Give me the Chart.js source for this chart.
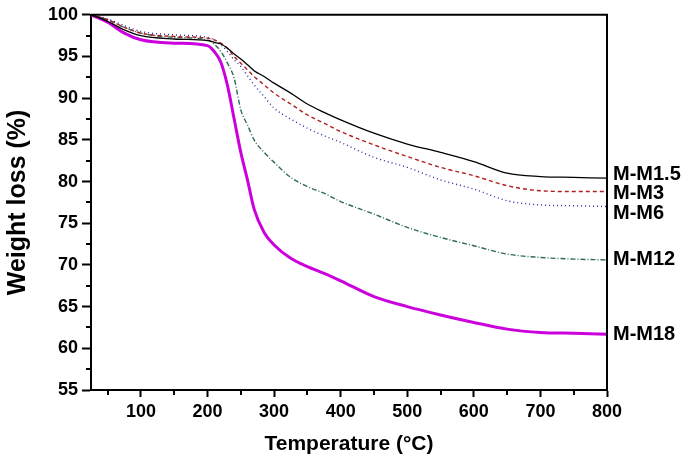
<!doctype html>
<html lang="en">
<head>
<meta charset="utf-8">
<title>TGA</title>
<script src="https://cdn.jsdelivr.net/npm/chart.js@4.4.1/dist/chart.umd.min.js"></script>
<style>
  html, body { margin: 0; padding: 0; background: #fff; }
  #wrap { width: 688px; height: 459px; }
</style>
</head>
<body>
<div id="wrap"><canvas id="myChart"></canvas></div>
<script>
// temperature (°C)
const temps = [25, 50, 75, 100, 150, 200, 210, 220, 230, 240, 250, 260, 270, 285, 300, 325, 350, 375, 400, 450, 500, 550, 600, 650, 700, 750, 800];

const seriesNames = ['M-M1.5', 'M-M3', 'M-M6', 'M-M12', 'M-M18'];

const mm15 = [100, 99.2, 98.2, 97.5, 97.1, 96.9, 96.7, 96.5, 96.0, 95.3, 94.7, 94.0, 93.3, 92.6, 91.8, 90.6, 89.3, 88.3, 87.4, 85.8, 84.5, 83.5, 82.4, 81.0, 80.6, 80.5, 80.4];
const mm3  = [100, 99.4, 98.5, 97.8, 97.4, 97.2, 97.0, 96.6, 96.0, 95.0, 94.2, 93.4, 92.6, 91.6, 90.6, 89.3, 88.0, 87.0, 86.0, 84.4, 83.0, 81.7, 80.7, 79.5, 78.9, 78.8, 78.8];
const mm6  = [100, 99.5, 98.7, 98.0, 97.6, 97.3, 97.0, 96.4, 95.6, 94.6, 93.8, 92.7, 91.6, 90.2, 88.8, 87.5, 86.4, 85.5, 84.7, 82.9, 81.7, 80.2, 79.1, 77.7, 77.2, 77.1, 77.0];
const mm12 = [100, 99.4, 98.5, 97.8, 97.3, 97.0, 96.5, 95.6, 94.2, 92.4, 88.6, 86.8, 85.0, 83.5, 82.3, 80.5, 79.4, 78.6, 77.6, 76.1, 74.5, 73.3, 72.3, 71.3, 70.9, 70.7, 70.6];
const mm18 = [100, 99.1, 97.8, 97.0, 96.6, 96.3, 95.6, 94.3, 91.5, 87.5, 83.5, 80.2, 76.7, 73.9, 72.4, 70.8, 69.8, 69.0, 68.1, 66.2, 65.0, 64.0, 63.1, 62.3, 61.9, 61.8, 61.7];

const xTicks = [100, 200, 300, 400, 500, 600, 700, 800];
const xMinor = [50, 150, 250, 350, 450, 550, 650, 750];
const yTicks = [55, 60, 65, 70, 75, 80, 85, 90, 95, 100];
const yMinor = [57.5, 62.5, 67.5, 72.5, 77.5, 82.5, 87.5, 92.5, 97.5];

const toPoints = (vals) => temps.map((t, i) => ({ x: t, y: vals[i] }));

const FONT = 'Arial, "Liberation Sans", sans-serif';

// frame + minor ticks + series labels on the right
const extras = {
  id: 'extras',
  afterDraw(chart) {
    const ctx = chart.ctx;
    const a = chart.chartArea;
    const xs = chart.scales.x, ys = chart.scales.y;
    ctx.save();
    ctx.strokeStyle = '#000';
    ctx.lineWidth = 2;
    ctx.beginPath();
    ctx.moveTo(a.left, a.top);
    ctx.lineTo(a.right, a.top);
    ctx.lineTo(a.right, a.bottom);
    ctx.stroke();

    ctx.beginPath();
    xMinor.forEach(v => {
      const px = Math.round(xs.getPixelForValue(v));
      ctx.moveTo(px, a.bottom);
      ctx.lineTo(px, a.bottom + 5);
    });
    yMinor.forEach(v => {
      const py = Math.round(ys.getPixelForValue(v));
      ctx.moveTo(a.left, py);
      ctx.lineTo(a.left - 5, py);
    });
    ctx.stroke();

    // labels next to end of each curve
    const offsets = [-4, 2, 7, 0, 0];
    ctx.fillStyle = '#000';
    ctx.font = 'bold 20px ' + FONT;
    ctx.textAlign = 'left';
    ctx.textBaseline = 'middle';
    chart.data.datasets.forEach((ds, i) => {
      const last = ds.data[ds.data.length - 1];
      const py = ys.getPixelForValue(last.y) + offsets[i];
      ctx.fillText(seriesNames[i], a.right + 6, py);
    });
    ctx.restore();
  }
};

const ctx = document.getElementById('myChart');

new Chart(ctx, {
  type: 'line',
  data: {
    datasets: [
      { label: seriesNames[0], data: toPoints(mm15), borderColor: '#000000', borderWidth: 1.3 },
      { label: seriesNames[1], data: toPoints(mm3), borderColor: '#b02020', borderWidth: 1.4, borderDash: [4, 3] },
      { label: seriesNames[2], data: toPoints(mm6), borderColor: '#2a2aa0', borderWidth: 1.4, borderDash: [1, 3] },
      { label: seriesNames[3], data: toPoints(mm12), borderColor: '#2e6b5c', borderWidth: 1.4, borderDash: [5, 2, 1, 2] },
      { label: seriesNames[4], data: toPoints(mm18), borderColor: '#cc00dd', borderWidth: 3 }
    ]
  },
  options: {
    responsive: true,
    maintainAspectRatio: false,
    animation: false,
    layout: { padding: { top: 11, right: 81, left: 0, bottom: 0 } },
    elements: {
      point: { radius: 0 },
      line: { cubicInterpolationMode: 'monotone', fill: false }
    },
    plugins: {
      legend: { display: false },
      tooltip: { enabled: false }
    },
    scales: {
      x: {
        type: 'linear',
        min: 25,
        max: 800,
        afterBuildTicks: (scale) => { scale.ticks = xTicks.map(v => ({ value: v })); },
        afterFit: (scale) => { scale.height = 69; },
        border: { display: true, color: '#000', width: 2 },
        grid: { drawOnChartArea: false, drawTicks: true, tickLength: 7, tickColor: '#000', tickWidth: 2 },
        ticks: { color: '#000', font: { family: FONT, size: 18, weight: 'bold' }, padding: 4, maxRotation: 0 },
        title: { display: true, text: 'Temperature (°C)', color: '#000', font: { family: FONT, size: 21, weight: 'bold' }, padding: { top: 0, bottom: 2 } }
      },
      y: {
        type: 'linear',
        min: 55,
        max: 100,
        afterBuildTicks: (scale) => { scale.ticks = yTicks.map(v => ({ value: v })); },
        afterFit: (scale) => { scale.width = 91; },
        border: { display: true, color: '#000', width: 2 },
        grid: { drawOnChartArea: false, drawTicks: true, tickLength: 9, tickColor: '#000', tickWidth: 2 },
        ticks: { color: '#000', font: { family: FONT, size: 18, weight: 'bold' }, padding: 4 },
        title: { display: true, text: 'Weight loss (%)', color: '#000', font: { family: FONT, size: 25, weight: 'bold' }, padding: { top: 3, bottom: 0 } }
      }
    }
  },
  plugins: [extras]
});
</script>
</body>
</html>
